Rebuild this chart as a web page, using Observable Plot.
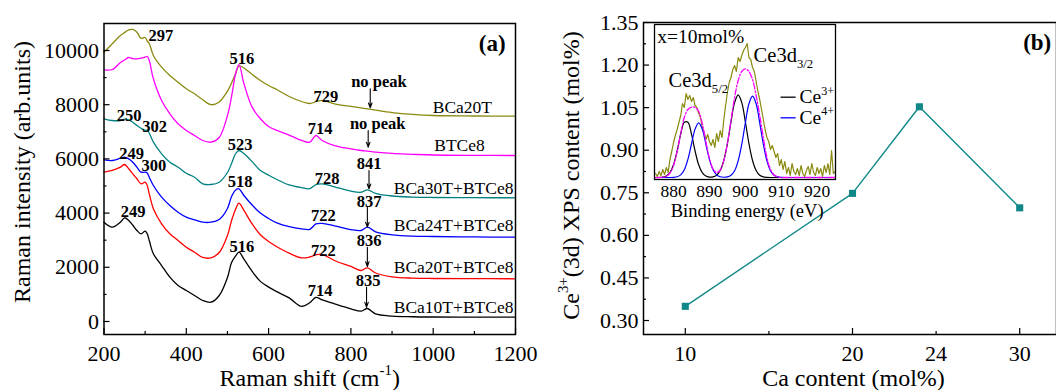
<!DOCTYPE html>
<html><head><meta charset="utf-8">
<script src="https://cdn.jsdelivr.net/npm/d3@7"></script>
<script src="https://cdn.jsdelivr.net/npm/@observablehq/plot@0.6"></script>
<style>
html,body{margin:0;padding:0;background:#fff;overflow:hidden}
#root{position:relative;width:1056px;height:390px;background:#fff}
#root svg, #root svg text, #root svg tspan{font-family:"Liberation Serif","Times New Roman",serif !important;}
</style></head>
<body><div id="root"></div>
<script>
// ---------------- Panel (a): Raman spectra ----------------
const ramanShift = [200,220,240,250,260,270,280,290,300,305,310,320,340,360,380,400,420,440,460,480,500,510,520,528,540,560,580,600,620,650,680,700,715,730,760,800,825,840,860,900,950,1000,1100,1200];
const bca20t   = [9937,10247,10554,10660,10764,10775,10675,10450,10480,10350,10258,9815,9384,9077,8830,8587,8402,8181,8000,8100,8500,8800,9150,9430,9354,9114,8893,8708,8561,8303,8118,8044,8110,8160,8033,7934,7880,7849,7800,7710,7640,7601,7583,7576];
const btce8    = [9288,9299,9557,9650,9742,9700,9694,9720,9753,9779,9631,8956,8155,7664,7295,7048,6863,6679,6616,6790,7601,8303,9150,9480,8780,7910,7480,7196,7050,6880,6679,6616,6863,6679,6494,6373,6310,6284,6250,6200,6170,6144,6130,6125];
const bca30tBtce8 = [7480,7417,7417,7470,7443,7350,7232,7130,7050,7060,6950,6616,6188,5878,5694,5472,5325,5081,5055,5140,5498,5830,6199,6310,6200,5900,5572,5400,5240,5040,4940,4900,5050,5080,4970,4810,4771,4860,4730,4630,4590,4576,4568,4565];
const bca24tBtce8 = [5967,5941,6026,6063,6000,5878,5694,5509,5509,5480,5325,5018,4587,4280,4033,3849,3753,3664,3664,3764,4170,4613,4850,4897,4650,4300,4000,3800,3640,3500,3420,3400,3600,3620,3530,3390,3358,3480,3310,3200,3150,3137,3120,3111];
const bca20tBtce8 = [5509,5572,5694,5793,5635,5450,5266,5081,5140,5018,4712,4159,3605,3236,2989,2742,2557,2362,2351,2546,3173,3727,4150,4365,4100,3600,3200,2950,2760,2520,2350,2380,2460,2480,2251,2030,1882,1982,1790,1650,1600,1587,1580,1576];
const bca10tBtce8 = [3664,3480,3664,3827,3727,3550,3358,3236,3332,3236,2989,2498,2066,1635,1328,1144,959,775,712,959,1624,2177,2420,2557,2300,1850,1480,1270,1100,870,560,690,890,800,653,469,380,480,280,200,175,166,162,159];

const xTicksA = [200,400,600,800,1000,1200];
const xMinorA = [300,500,700,900,1100];
const yTicksA = [0,2000,4000,6000,8000,10000];
const yMinorA = [1000,3000,5000,7000,9000];

// peak annotations
const peakLabels = ["297","516","729","250","302","714","523","249","300","841","728","518","837","722","249","836","722","516","835","714"];
const peakLabelX = [338,535,739,261,323,725,531,267,321,844,742,531,844,733,271,844,733,535,842,725];
const peakLabelY = [10554,9694,8277,7601,7196,7111,6531,6188,5731,5819,5266,5140,4402,3911,4033,2963,2620,2768,1487,1144];
const noPeakLabels = ["no peak","no peak"];
const noPeakX = [868,865];
const noPeakY = [8830,7295];
const arrowX  = [847,842,844,840,840,838];
const arrowY1 = [8587,7048,5572,4218,2742,1266];
const arrowY2 = [7886,6432,4897,3480,2030,528];
const shortNames = ["BCa20T","BTCe8"];
const shortNameX = [1071,1064];
const shortNameY = [7908,6494];
const longNames = ["BCa30T+BTCe8","BCa24T+BTCe8","BCa20T+BTCe8","BCa10T+BTCe8"];
const longNameX = [1195,1195,1195,1195];
const longNameY = [4897,3542,2004,528];

// ---------------- Panel (b): Ce3+ content ----------------
const caContent = [10,20,24,30];
const ce3Content = [0.35,0.748,1.053,0.697];
const xTickPosB = [10,20,25,30];
const xTickLabelsB = ["10","20","24","30"];
const xMajorB = [10,20,30];
const xMinorB = [15,25];
const yTicksB = [0.30,0.45,0.60,0.75,0.90,1.05,1.20,1.35];
const yMinorB = [0.375,0.525,0.675,0.825,0.975,1.125,1.275];

// ---------------- Inset: XPS Ce3d ----------------
const fitE = [875,876,877,878,879,880,881,882,883,884,885,886,887,888,889,890,891,892,893,894,895,896,897,898,899,900,901,902,903,904,905,906,907,908,909,910,911,912,913,914,915,916,917,918,919,920,921,922,923,924,925];
const ce3Fit = [0,0,0.3,1.4,4.8,12.7,26.5,43.3,55.3,55.3,43.3,26.5,12.7,4.8,1.4,0.45,0.6,2.3,7,17,33.9,55.7,74.9,82.7,74.9,55.7,33.9,17,7,2.3,0.6,0.15,0,0,0,0,0,0,0,0,0,0,0,0,0,0,0,0,0,0,0];
const ce4Fit = [0,0,0,0,0,0.1,0.7,2.6,7.7,18.2,33.5,48.4,54.7,48.4,33.5,18.2,7.7,2.6,0.7,0.25,0.6,2.3,6.8,16.7,33.3,54.7,73.7,81.3,73.7,54.7,33.3,16.7,6.8,2.3,0.6,0.15,0,0,0,0,0,0,0,0,0,0,0,0,0,0,0];
const envelopeFit = [0,0,0.3,1.2,4.5,12,26,44,60,68,70.5,70,66,54,36,19,8.5,5,7.5,17,34,57,80,97,106,108.7,106,98,82,62,40,20,8,2.5,0.6,0,0,0,0,0,0,0,0,0,0,0,0,0,0,0,0];
const rawE = [875,875.5,876,876.5,877,877.5,878,878.5,879,879.5,880,880.5,881,881.5,882,882.5,883,883.5,884,884.5,885,885.5,886,886.5,887,887.5,888,888.5,889,889.5,890,890.5,891,891.5,892,892.5,893,893.5,894,894.5,895,895.5,896,896.5,897,897.5,898,898.5,899,899.5,900,900.5,901,901.5,902,902.5,903,903.5,904,904.5,905,905.5,906,906.5,907,907.5,908,908.5,909,909.5,910,910.5,911,911.5,912,912.5,913,913.5,914,914.5,915,915.5,916,916.5,917,917.5,918,918.5,919,919.5,920,920.5,921,921.5,922,922.5,923,923.5,924,924.5,925];
const rawCounts = [4,1,6,2,8,3,10,5,18,26,35,42,48,55,62,74,70,84,78,82,76,80,72,70,64,60,50,45,38,43,36,32,38,30,44,36,47,40,58,72,85,95,100,108,112,106,120,116,122,127,130,134,120,118,110,106,96,86,78,68,58,48,40,36,28,32,26,20,24,12,18,8,16,4,10,2,14,6,3,9,2,12,4,1,7,11,3,14,5,2,10,4,9,1,12,5,14,3,27,4,6];
const insetTicks = [880,890,900,910,920];

// ---------------- helpers ----------------
const H = 390;
const serif = "Liberation Serif, Times New Roman, serif";
const root = document.getElementById("root");
const baseStyle = {fontFamily: serif, fontSize: "22px", background: "transparent", overflow: "visible", color: "black"};

function richText(svg) {
  d3.select(svg).selectAll("text").each(function() {
    const t = this.textContent;
    if (!/<su[bp]>/.test(t)) return;
    const fs = parseFloat(getComputedStyle(this).fontSize);
    const sel = d3.select(this);
    sel.text(null);
    const parts = t.split(/(<su[bp]>.*?<\/su[bp]>)/).filter(s => s.length);
    let shift = 0;
    for (const p of parts) {
      const m = p.match(/^<(su[bp])>(.*?)<\/su[bp]>$/);
      if (m) {
        const target = m[1] === "sup" ? -0.45 * fs : 0.3 * fs;
        sel.append("tspan").attr("dy", target - shift).attr("font-size", (0.62 * fs) + "px").text(m[2]);
        shift = target;
      } else {
        sel.append("tspan").attr("dy", -shift).text(p);
        shift = 0;
      }
    }
  });
}
function place(svg, left, top) {
  svg.style.position = "absolute";
  svg.style.left = left + "px";
  svg.style.top = top + "px";
  svg.style.maxWidth = "none";
  root.appendChild(svg);
  richText(svg);
}

// ---------------- Panel (a) ----------------
const aW = 530, aM = {l: 103.5, r: 15, t: 23, b: 56};
const aIW = aW - aM.l - aM.r, aIH = H - aM.t - aM.b;
const seriesA = [
  {y: bca20t, c: "#8a8a10"},
  {y: btce8, c: "#ff00ff"},
  {y: bca30tBtce8, c: "#008080"},
  {y: bca24tBtce8, c: "#0000ff"},
  {y: bca20tBtce8, c: "#ff0000"},
  {y: bca10tBtce8, c: "#000000"}
];
const plotA = Plot.plot({
  width: aW, height: H, marginLeft: aM.l, marginRight: aM.r, marginTop: aM.t, marginBottom: aM.b,
  style: baseStyle,
  x: {domain: [200, 1200]},
  y: {domain: [-480, 10996]},
  marks: [
    ...seriesA.map(s => Plot.line(ramanShift, {x: ramanShift, y: s.y, stroke: s.c, strokeWidth: 1.3, curve: "catmull-rom"})),
    Plot.tickX(xTicksA, {x: d => d, insetTop: aIH - 6, strokeWidth: 1.2}),
    Plot.tickX(xMinorA, {x: d => d, insetTop: aIH - 3, strokeWidth: 1.2}),
    Plot.tickY(yTicksA, {y: d => d, insetRight: aIW - 6, strokeWidth: 1.2}),
    Plot.tickY(yMinorA, {y: d => d, insetRight: aIW - 3, strokeWidth: 1.2}),
    Plot.axisX(xTicksA, {tickSize: 0, tickPadding: 10.5, fontSize: 22, label: null, tickFormat: d => String(d)}),
    Plot.axisY(yTicksA, {tickSize: 0, tickPadding: 5, fontSize: 22, label: null, tickFormat: d => String(d)}),
    Plot.frame({strokeWidth: 1.5}),
    Plot.text(peakLabels, {x: peakLabelX, y: peakLabelY, text: d => d, fontWeight: "bold", fontSize: 16.5}),
    Plot.text(noPeakLabels, {x: noPeakX, y: noPeakY, text: d => d, fontWeight: "bold", fontSize: 16.5}),
    Plot.arrow(arrowX, {x1: arrowX, x2: arrowX, y1: arrowY1, y2: arrowY2, headLength: 7, headAngle: 40, strokeWidth: 1.1}),
    Plot.text(shortNames, {x: shortNameX, y: shortNameY, text: d => d, fontSize: 17.5}),
    Plot.text(longNames, {x: longNameX, y: longNameY, text: d => d, textAnchor: "end", fontSize: 17.5}),
    Plot.text(["(a)"], {frameAnchor: "top-right", dx: -23.3, dy: 20.3, textAnchor: "middle", lineAnchor: "middle", fontWeight: "bold", fontSize: 23}),
    Plot.text(["Raman intensity (arb.units)"], {frameAnchor: "left", dx: -81.5, dy: -7, rotate: -90, textAnchor: "middle", lineAnchor: "middle", fontSize: 24}),
    Plot.text(["Raman shift (cm<sup>-1</sup>)"], {frameAnchor: "bottom", dy: 44, textAnchor: "middle", lineAnchor: "middle", fontSize: 24})
  ]
});
place(plotA, 0, 0);

// ---------------- Panel (b) ----------------
const bW = 526, bM = {l: 113, r: 0, t: 22, b: 56};
const bIW = bW - bM.l - bM.r, bIH = H - bM.t - bM.b;
const teal = "#108888";
const plotB = Plot.plot({
  width: bW, height: H, marginLeft: bM.l, marginRight: bM.r, marginTop: bM.t, marginBottom: bM.b,
  style: baseStyle,
  x: {domain: [7.5, 32.2]},
  y: {domain: [0.2507, 1.35]},
  marks: [
    Plot.tickX(xMajorB, {x: d => d, insetTop: bIH - 6, strokeWidth: 1.2}),
    Plot.tickX(xMinorB, {x: d => d, insetTop: bIH - 3, strokeWidth: 1.2}),
    Plot.tickY(yTicksB, {y: d => d, insetRight: bIW - 6, strokeWidth: 1.2}),
    Plot.tickY(yMinorB, {y: d => d, insetRight: bIW - 3, strokeWidth: 1.2}),
    Plot.axisX(xTickPosB, {tickSize: 0, tickPadding: 10.5, fontSize: 22, label: null, tickFormat: d => xTickLabelsB[xTickPosB.indexOf(d)]}),
    Plot.axisY(yTicksB, {tickSize: 0, tickPadding: 5, fontSize: 22, label: null, tickFormat: d3.format(".2f")}),
    Plot.line(caContent, {x: caContent, y: ce3Content, stroke: teal, strokeWidth: 1.4}),
    Plot.dot(caContent, {x: caContent, y: ce3Content, symbol: "square", fill: teal, r: 4}),
    Plot.frame({strokeWidth: 1.5}),
    Plot.text(["(b)"], {frameAnchor: "top-right", dx: -19.3, dy: 19.7, textAnchor: "middle", lineAnchor: "middle", fontWeight: "bold", fontSize: 23}),
    Plot.text(["Ce<sup>3+</sup>(3d) XPS content (mol%)"], {frameAnchor: "left", dx: -72, dy: -3, rotate: -90, textAnchor: "middle", lineAnchor: "middle", fontSize: 24}),
    Plot.text(["Ca content (mol%)"], {frameAnchor: "bottom", dx: 3.5, dy: 44, textAnchor: "middle", lineAnchor: "middle", fontSize: 24})
  ]
});
place(plotB, 530, 0);

// ---------------- Inset ----------------
const plotI = Plot.plot({
  width: 210, height: 215, marginLeft: 14, marginRight: 15, marginTop: 24, marginBottom: 36,
  style: {...baseStyle, fontSize: "18px"},
  x: {domain: [874.7, 925.1]},
  y: {domain: [-2, 153], axis: null},
  marks: [
    Plot.frame({fill: "white", stroke: null}),
    Plot.line(rawE, {x: rawE, y: rawCounts, stroke: "#8a8a10", strokeWidth: 1.2, clip: true}),
    Plot.line(fitE, {x: fitE, y: ce3Fit, stroke: "#000000", strokeWidth: 1.2, curve: "catmull-rom", clip: true}),
    Plot.line(fitE, {x: fitE, y: ce4Fit, stroke: "#0000ff", strokeWidth: 1.2, curve: "catmull-rom", clip: true}),
    Plot.line(fitE, {x: fitE, y: envelopeFit, stroke: "#ff00ff", strokeWidth: 1.3, strokeDasharray: "6,2,1.5,2", curve: "catmull-rom", clip: true}),
    Plot.frame({strokeWidth: 1.3}),
    Plot.axisX(insetTicks, {tickSize: 0, tickPadding: 5, fontSize: 17.5, label: null}),
    Plot.text(["Binding energy (eV)"], {x: [900.5], y: [-33.5], text: d => d, fontSize: 18.5}),
    Plot.text(["x=10mol%"], {x: [875.5], y: [140.3], text: d => d, textAnchor: "start", fontSize: 19.5}),
    Plot.text(["Ce3d<sub>5/2</sub>"], {x: [878.6], y: [97], text: d => d, textAnchor: "start", fontSize: 20.5}),
    Plot.text(["Ce3d<sub>3/2</sub>"], {x: [902.3], y: [122], text: d => d, textAnchor: "start", fontSize: 20.5}),
    Plot.link([0], {x1: [909.8], x2: [914], y1: [80.3], y2: [80.3], stroke: "#000000", strokeWidth: 1.3}),
    Plot.link([0], {x1: [909.8], x2: [914], y1: [59.7], y2: [59.7], stroke: "#0000ff", strokeWidth: 1.3}),
    Plot.text(["Ce<sup>3+</sup>", "Ce<sup>4+</sup>"], {x: [915.1, 915.1], y: [80.3, 59.7], text: d => d, textAnchor: "start", fontSize: 19.5})
  ]
});
place(plotI, 640, 0);
</script>
</body></html>
